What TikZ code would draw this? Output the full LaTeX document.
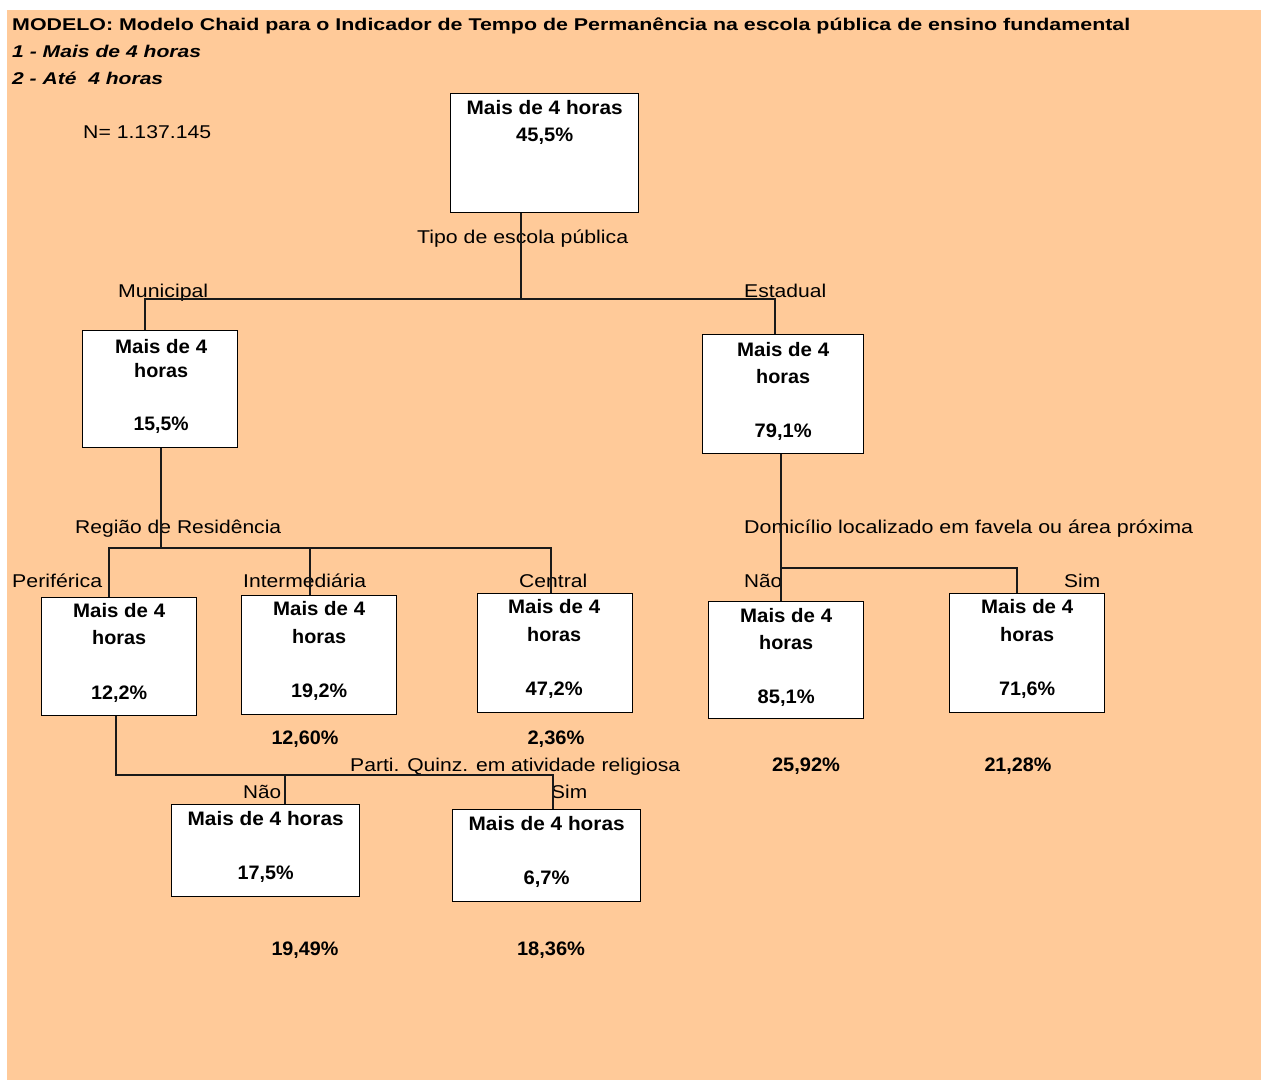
\documentclass[tikz,border=0pt]{standalone}
\usepackage{fontspec}
\setmainfont{Liberation Sans}
\usepackage{graphicx}
\usetikzlibrary{calc}
\definecolor{bgor}{HTML}{FFCA99}
\newcommand{\fw}[2]{\resizebox{#1pt}{\height}{#2}}
\begin{document}
\begin{tikzpicture}[x=1pt,y=-1pt,
  box/.style={draw=black, fill=white, line width=1.3pt, inner sep=0pt, anchor=north west},
  lab/.style={inner sep=0pt, anchor=base west, font=\fontsize{18.5}{20}\selectfont},
  btx/.style={inner sep=0pt, anchor=base, font=\bfseries\fontsize{19.5}{21}\selectfont},
  ttl/.style={inner sep=0pt, anchor=base west, font=\bfseries\fontsize{17}{19}\selectfont},
  leg/.style={inner sep=0pt, anchor=base west, font=\bfseries\itshape\fontsize{17}{19}\selectfont},
  con/.style={draw=black!90, line width=1.3pt}]
\useasboundingbox (0,0) rectangle (1261,1080);
\fill[white] (0,0) rectangle (1261,1080);
\fill[bgor] (7,10) rectangle (1261,1080);

% header
\node[ttl] (title) at (12,30) {\fw{1118}{MODELO: Modelo Chaid para o Indicador de Tempo de Permanência na escola pública de ensino fundamental}};
\node[leg] (leg1) at (12,57) {\fw{189}{1 - Mais de 4 horas}};
\node[leg] (leg2) at (12,84) {\fw{151}{2 - Até\ \ 4 horas}};
\node[lab] (ntot) at (83,138) {\fw{128}{N= 1.137.145}};

% boxes
\node[box, minimum width=188pt, minimum height=119pt] (root) at (450,93) {};
\node[box, minimum width=155pt, minimum height=117pt] (mun) at (82,330) {};
\node[box, minimum width=161pt, minimum height=119pt] (est) at (702,334) {};
\node[box, minimum width=155pt, minimum height=118pt] (per) at (41,597) {};
\node[box, minimum width=155pt, minimum height=119pt] (int) at (241,595) {};
\node[box, minimum width=155pt, minimum height=119pt] (cen) at (477,593) {};
\node[box, minimum width=155pt, minimum height=117pt] (dnao) at (708,601) {};
\node[box, minimum width=155pt, minimum height=119pt] (dsim) at (949,593) {};
\node[box, minimum width=188pt, minimum height=92pt] (rnao) at (171,804) {};
\node[box, minimum width=188pt, minimum height=92pt] (rsim) at (452,809) {};

% box texts
\node[btx] (roott1) at ($(root.north)+(0,21)$) {\fw{156}{Mais de 4 horas}};
\node[btx] (roott2) at ($(root.north)+(0,48)$) {\fw{57}{45,5\%}};

\node[btx] (munt1) at ($(mun.north)+(1,23)$) {\fw{92}{Mais de 4}};
\node[btx] (munt2) at ($(mun.north)+(1,47)$) {\fw{54}{horas}};
\node[btx] (munt3) at ($(mun.north)+(1,100)$) {\fw{55}{15,5\%}};

\node[btx] (estt1) at ($(est.north)+(0,22)$) {\fw{92}{Mais de 4}};
\node[btx] (estt2) at ($(est.north)+(0,49)$) {\fw{54}{horas}};
\node[btx] (estt3) at ($(est.north)+(0,103)$) {\fw{57}{79,1\%}};

\node[btx] (pert1) at ($(per.north)+(0,20)$) {\fw{92}{Mais de 4}};
\node[btx] (pert2) at ($(per.north)+(0,47)$) {\fw{54}{horas}};
\node[btx] (pert3) at ($(per.north)+(0,102)$) {\fw{56}{12,2\%}};

\node[btx] (intt1) at ($(int.north)+(0,20)$) {\fw{92}{Mais de 4}};
\node[btx] (intt2) at ($(int.north)+(0,48)$) {\fw{54}{horas}};
\node[btx] (intt3) at ($(int.north)+(0,102)$) {\fw{56}{19,2\%}};

\node[btx] (cent1) at ($(cen.north)+(-1,20)$) {\fw{92}{Mais de 4}};
\node[btx] (cent2) at ($(cen.north)+(-1,48)$) {\fw{54}{horas}};
\node[btx] (cent3) at ($(cen.north)+(-1,102)$) {\fw{57}{47,2\%}};

\node[btx] (dnaot1) at ($(dnao.north)+(0,21)$) {\fw{92}{Mais de 4}};
\node[btx] (dnaot2) at ($(dnao.north)+(0,48)$) {\fw{54}{horas}};
\node[btx] (dnaot3) at ($(dnao.north)+(0,102)$) {\fw{57}{85,1\%}};

\node[btx] (dsimt1) at ($(dsim.north)+(0,20)$) {\fw{92}{Mais de 4}};
\node[btx] (dsimt2) at ($(dsim.north)+(0,48)$) {\fw{54}{horas}};
\node[btx] (dsimt3) at ($(dsim.north)+(0,102)$) {\fw{56}{71,6\%}};

\node[btx] (rnaot1) at ($(rnao.north)+(0,21)$) {\fw{156}{Mais de 4 horas}};
\node[btx] (rnaot2) at ($(rnao.north)+(0,75)$) {\fw{56}{17,5\%}};
\node[btx] (rsimt1) at ($(rsim.north)+(0,21)$) {\fw{156}{Mais de 4 horas}};
\node[btx] (rsimt2) at ($(rsim.north)+(0,75)$) {\fw{46}{6,7\%}};

% percentages below boxes
\node[btx] (p1) at (305,744) {\fw{67}{12,60\%}};
\node[btx] (p2) at (556,744) {\fw{57}{2,36\%}};
\node[btx] (p3) at (806,771) {\fw{68}{25,92\%}};
\node[btx] (p4) at (1018,771) {\fw{67}{21,28\%}};
\node[btx] (p5) at (305,955) {\fw{67}{19,49\%}};
\node[btx] (p6) at (551,955) {\fw{68}{18,36\%}};

% split labels
\node[lab] (l1) at (417,243) {\fw{211}{Tipo de escola pública}};
\node[lab] (l2) at (118,297) {\fw{90}{Municipal}};
\node[lab] (l3) at (744,297) {\fw{82}{Estadual}};
\node[lab] (l4) at (75,533) {\fw{206}{Região de Residência}};
\node[lab] (l5) at (12,587) {\fw{90}{Periférica}};
\node[lab] (l6) at (243,587) {\fw{123}{Intermediária}};
\node[lab] (l7) at (519,587) {\fw{68}{Central}};
\node[lab] (l8) at (744,533) {\fw{449}{Domicílio localizado em favela ou área próxima}};
\node[lab] (l9) at (744,587) {\fw{38}{Não}};
\node[lab] (l10) at (1064,587) {\fw{36}{Sim}};
\node[lab] (l11) at (350,771) {\fw{330}{Parti. Quinz. em atividade religiosa}};
\node[lab] (l12) at (243,798) {\fw{38}{Não}};
\node[lab] (l13) at (551,798) {\fw{36}{Sim}};

% junction coordinates
\coordinate (j0) at (521,299);
\coordinate (j1) at (145,299);
\coordinate (j2) at (775,299);
\coordinate (a0) at (161,548);
\coordinate (a1) at (109,548);
\coordinate (a2) at (310,548);
\coordinate (a3) at (551,548);
\coordinate (b0) at (116,775);
\coordinate (b1) at (285,775);
\coordinate (b2) at (553,775);
\coordinate (c0) at (781,568);
\coordinate (c1) at (1017,568);

% connectors
\draw[con] (root.south -| j0) -- (j0);
\draw[con] (mun.north -| j1) -- (j1) -- (j2) -- (est.north -| j2);
\draw[con] (mun.south -| a0) -- (a0);
\draw[con] (per.north -| a1) -- (a1) -- (a3) -- (cen.north -| a3);
\draw[con] (a2) -- (int.north -| a2);
\draw[con] (per.south -| b0) -- (b0) -- (b2) -- (rsim.north -| b2);
\draw[con] (b1) -- (rnao.north -| b1);
\draw[con] (est.south -| c0) -- (c0) -- (dnao.north -| c0);
\draw[con] (c0) -- (c1) -- (dsim.north -| c1);
\end{tikzpicture}
\end{document}
